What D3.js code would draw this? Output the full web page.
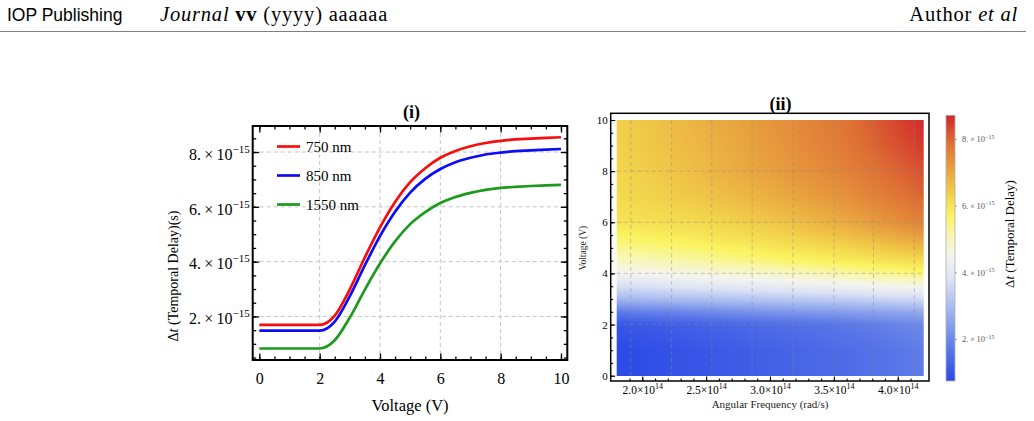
<!DOCTYPE html>
<html>
<head>
<meta charset="utf-8">
<script src="https://cdn.jsdelivr.net/npm/d3@7"></script>
<style>
body{margin:0;background:#fff;}
svg{display:block;}
</style>
</head>
<body>
<svg id="fig" width="1034" height="421"></svg>
<script>
// ---------- data (delays in units of 1e-15 s) ----------
const voltage   = [0,0.5,1,1.5,2,2.5,3,3.5,4,4.5,5,5.5,6,6.5,7,7.5,8,8.5,9,9.5,10];
const delay750  = [1.69,1.69,1.69,1.69,1.69,2.03,2.99,4.16,5.25,6.18,6.90,7.41,7.79,8.04,8.21,8.33,8.41,8.46,8.49,8.52,8.54];
const delay850  = [1.48,1.48,1.48,1.48,1.48,1.81,2.74,3.87,4.93,5.82,6.52,7.02,7.38,7.63,7.79,7.91,7.98,8.03,8.06,8.09,8.11];
const delay1550 = [0.83,0.83,0.83,0.83,0.83,1.13,1.96,2.98,3.93,4.74,5.37,5.81,6.14,6.36,6.51,6.62,6.69,6.73,6.76,6.78,6.80];
const seriesNames = ['750 nm','850 nm','1550 nm'];
const seriesColors = ['#f80d0d','#0d0df5','#1d9a1d'];
const xTicks1 = [0,2,4,6,8,10];
const yTicks1 = [2,4,6,8];

// density map: rows = voltage, columns = angular frequency (1e14 rad/s)
const mapFreq = [1.8,2.4,3.0,3.6,4.2];
const mapVolt = [0,1,2,2.5,3,3.5,4,4.5,5,5.5,6,7,8,9,10];
const mapDelay = [
  [0.74,0.98,1.22,1.46,1.78],
  [0.74,0.98,1.22,1.46,1.78],
  [0.98,1.22,1.46,1.70,2.02],
  [1.78,2.02,2.25,2.41,2.65],
  [2.89,3.05,3.21,3.37,3.61],
  [3.69,3.93,4.09,4.33,4.57],
  [4.41,4.65,4.88,5.20,5.52],
  [4.96,5.20,5.52,5.84,6.16],
  [5.36,5.60,5.92,6.24,6.72],
  [5.68,5.92,6.24,6.64,7.20],
  [6.00,6.16,6.48,6.96,7.59],
  [6.16,6.48,6.88,7.36,7.99],
  [6.24,6.64,7.12,7.59,8.23],
  [6.32,6.72,7.20,7.75,8.47],
  [6.32,6.80,7.28,7.83,8.63]
];
const freqTicks = [2.0,2.5,3.0,3.5,4.0];
const freqGrid = [1.91,2.23,2.545,2.86,3.18,3.5,3.81,4.13];
const voltTicks = [0,2,4,6,8,10];
const barRange = [0.74,8.71];
const barTicks = [2,4,6,8];

// temperature-like colour map
const cmapPos = [0,0.12,0.25,0.38,0.47,0.55,0.62,0.70,0.80,0.90,1];
const cmapCol = ['#2b4ae6','#5a78e8','#9aafef','#dbe2f5','#f4f4ef','#f8f6b0','#faf460','#f2d24a','#e8a03e','#de6e34','#d0242a'];

const serif = '"Liberation Serif","Times New Roman",serif';
const svg = d3.select('#fig');

// ---------- page header ----------
svg.append('text').attr('x',7).attr('y',21)
  .attr('font-family','"Liberation Sans",Arial,sans-serif').attr('font-size',17.5)
  .text('IOP Publishing');
const hdr = svg.append('text').attr('x',160).attr('y',21)
  .attr('font-family',serif).attr('font-size',20.5).attr('letter-spacing',0.8);
hdr.append('tspan').attr('font-style','italic').text('Journal ');
hdr.append('tspan').attr('font-weight','bold').text('vv');
hdr.append('tspan').text(' (yyyy) aaaaaa');
const auth = svg.append('text').attr('x',1018).attr('y',21).attr('text-anchor','end')
  .attr('font-family',serif).attr('font-size',20.5).attr('letter-spacing',0.8);
auth.append('tspan').text('Author ');
auth.append('tspan').attr('font-style','italic').text('et al');
svg.append('line').attr('x1',0).attr('x2',1026).attr('y1',31.5).attr('y2',31.5)
  .attr('stroke','#808080').attr('stroke-width',1);

// ---------- panel (i) ----------
const L = {l:252.7, r:567.3, t:126, b:360};
const x1 = d3.scaleLinear().domain([-0.22,10.21]).range([L.l,L.r]);
const y1 = d3.scaleLinear().domain([0.41,8.95]).range([L.b,L.t]);
const p1 = svg.append('g');

// grid
p1.append('g').selectAll('line').data([2,4,6,8]).join('line')
  .attr('x1',d=>x1(d)).attr('x2',d=>x1(d)).attr('y1',L.t).attr('y2',L.b)
  .attr('stroke','#c4c4c4').attr('stroke-dasharray','4,3').attr('stroke-width',1);
p1.append('g').selectAll('line').data(yTicks1).join('line')
  .attr('y1',d=>y1(d)).attr('y2',d=>y1(d)).attr('x1',L.l).attr('x2',L.r)
  .attr('stroke','#c4c4c4').attr('stroke-dasharray','4,3').attr('stroke-width',1);

// curves
const line1 = d3.line().x((d,i)=>x1(voltage[i])).y(d=>y1(d)).curve(d3.curveMonotoneX);
[delay750,delay850,delay1550].forEach((s,k)=>{
  p1.append('path').datum(s).attr('d',line1).attr('fill','none')
    .attr('stroke',seriesColors[k]).attr('stroke-width',2.7);
});

// legend
seriesNames.forEach((n,k)=>{
  const yy = 146.5 + k*29;
  p1.append('line').attr('x1',277).attr('x2',300).attr('y1',yy).attr('y2',yy)
    .attr('stroke',seriesColors[k]).attr('stroke-width',2.7);
  p1.append('text').attr('x',306).attr('y',yy+5).attr('font-family',serif)
    .attr('font-size',15).text(n);
});

// frame + ticks
function styleAxis(g){ g.select('.domain').remove(); g.attr('font-family',serif); }
const minorX1 = d3.range(0,10.01,0.5), minorY1 = d3.range(0.5,8.9,0.5);
p1.append('g').attr('transform',`translate(0,${L.b})`)
  .call(d3.axisBottom(x1).tickValues(minorX1).tickSize(-3.5).tickFormat('')).call(styleAxis);
p1.append('g').attr('transform',`translate(0,${L.b})`)
  .call(d3.axisBottom(x1).tickValues(xTicks1).tickSize(-6.5).tickPadding(13).tickFormat(d3.format('d')))
  .call(styleAxis).attr('font-size',16);
p1.append('g').attr('transform',`translate(0,${L.t})`)
  .call(d3.axisTop(x1).tickValues(minorX1).tickSize(-3.5).tickFormat('')).call(styleAxis);
p1.append('g').attr('transform',`translate(0,${L.t})`)
  .call(d3.axisTop(x1).tickValues(xTicks1).tickSize(-6.5).tickFormat('')).call(styleAxis);
p1.append('g').attr('transform',`translate(${L.r},0)`)
  .call(d3.axisRight(y1).tickValues(minorY1).tickSize(-3.5).tickFormat('')).call(styleAxis);
p1.append('g').attr('transform',`translate(${L.r},0)`)
  .call(d3.axisRight(y1).tickValues(yTicks1).tickSize(-6.5).tickFormat('')).call(styleAxis);
p1.append('g').attr('transform',`translate(${L.l},0)`)
  .call(d3.axisLeft(y1).tickValues(minorY1).tickSize(-3.5).tickFormat('')).call(styleAxis);
const yAx1 = p1.append('g').attr('transform',`translate(${L.l},0)`)
  .call(d3.axisLeft(y1).tickValues(yTicks1).tickSize(-6.5).tickPadding(3))
  .call(styleAxis).attr('font-size',16);
yAx1.selectAll('.tick text').each(function(d){
  const t = d3.select(this).text(null).attr('dy','0.45em');
  t.append('tspan').text(d + '.\u2009×\u200910');
  t.append('tspan').attr('dy',-7).attr('font-size',11).text('\u221215');
});
p1.selectAll('.tick line').attr('stroke','#000').attr('stroke-width',1.3);
p1.append('rect').attr('x',L.l).attr('y',L.t).attr('width',L.r-L.l).attr('height',L.b-L.t)
  .attr('fill','none').attr('stroke','#000').attr('stroke-width',2);

// labels
p1.append('text').attr('x',411.5).attr('y',118).attr('text-anchor','middle')
  .attr('font-family',serif).attr('font-weight','bold').attr('font-size',18).text('(i)');
p1.append('text').attr('x',410).attr('y',411).attr('text-anchor','middle')
  .attr('font-family',serif).attr('font-size',16.5).text('Voltage (V)');
const yl1 = p1.append('text').attr('transform','translate(178,276) rotate(-90)')
  .attr('text-anchor','middle').attr('font-family',serif).attr('font-size',14);
yl1.append('tspan').text('Δ');
yl1.append('tspan').attr('font-style','italic').text('t');
yl1.append('tspan').text(' (Temporal Delay)(s)');

// ---------- panel (ii) ----------
const R = {l:610.7, r:929, t:113.3, b:381};
const H = {l:616.7, r:923.3, t:120, b:375.7};
const x2 = d3.scaleLinear().domain([1.8,4.2]).range([H.l,H.r]);
const y2 = d3.scaleLinear().domain([0,10]).range([H.b,H.t]);
const cScale = d3.scaleLinear()
  .domain(cmapPos.map(p=>barRange[0]+p*(barRange[1]-barRange[0])))
  .range(cmapCol).interpolate(d3.interpolateRgb).clamp(true);
const p2 = svg.append('g');

// density image, bilinear between read grid values
function bracket(arr,v){
  let i = d3.bisectRight(arr,v)-1;
  i = Math.max(0,Math.min(arr.length-2,i));
  const t = Math.max(0,Math.min(1,(v-arr[i])/(arr[i+1]-arr[i])));
  return [i,t];
}
const cw = Math.round(H.r-H.l), ch = Math.round(H.b-H.t);
const cv = document.createElement('canvas'); cv.width = cw; cv.height = ch;
const ctx = cv.getContext('2d');
const img = ctx.createImageData(cw,ch);
for(let j=0;j<ch;j++){
  const [vi,vt] = bracket(mapVolt, y2.invert(H.t+j+0.5));
  for(let i=0;i<cw;i++){
    const [fi,ft] = bracket(mapFreq, x2.invert(H.l+i+0.5));
    const a = mapDelay[vi][fi]*(1-ft)+mapDelay[vi][fi+1]*ft;
    const b = mapDelay[vi+1][fi]*(1-ft)+mapDelay[vi+1][fi+1]*ft;
    const c = d3.rgb(cScale(a*(1-vt)+b*vt));
    const o = (j*cw+i)*4;
    img.data[o]=c.r; img.data[o+1]=c.g; img.data[o+2]=c.b; img.data[o+3]=255;
  }
}
ctx.putImageData(img,0,0);
p2.append('image').attr('x',H.l).attr('y',H.t).attr('width',cw).attr('height',ch)
  .attr('preserveAspectRatio','none').attr('href',cv.toDataURL());

// grid
p2.append('g').selectAll('line').data(freqGrid).join('line')
  .attr('x1',d=>x2(d)).attr('x2',d=>x2(d)).attr('y1',H.t).attr('y2',H.b)
  .attr('stroke','#8a8a8a').attr('stroke-opacity',0.45).attr('stroke-dasharray','4,3');
p2.append('g').selectAll('line').data([2,4,6,8]).join('line')
  .attr('y1',d=>y2(d)).attr('y2',d=>y2(d)).attr('x1',H.l).attr('x2',H.r)
  .attr('stroke','#8a8a8a').attr('stroke-opacity',0.45).attr('stroke-dasharray','4,3');

// axes
p2.append('g').attr('transform',`translate(${R.l},0)`)
  .call(d3.axisLeft(y2).tickValues(d3.range(0,10.01,0.5)).tickSize(-2.5).tickFormat('')).call(styleAxis);
p2.append('g').attr('transform',`translate(${R.l},0)`)
  .call(d3.axisLeft(y2).tickValues(voltTicks).tickSize(-4.5).tickPadding(3).tickFormat(d3.format('d')))
  .call(styleAxis).attr('font-size',11);
p2.append('g').attr('transform',`translate(0,${R.b})`)
  .call(d3.axisBottom(x2).tickValues(d3.range(1.9,4.15,0.1)).tickSize(-2.5).tickFormat('')).call(styleAxis);
const xAx2 = p2.append('g').attr('transform',`translate(0,${R.b})`)
  .call(d3.axisBottom(x2).tickValues(freqTicks).tickSize(-4.5).tickPadding(4.5))
  .call(styleAxis).attr('font-size',11.5);
xAx2.selectAll('.tick text').each(function(d){
  const t = d3.select(this).text(null);
  t.append('tspan').text(d3.format('.1f')(d) + '×10');
  t.append('tspan').attr('dy',-4.5).attr('font-size',8).text('14');
});
p2.selectAll('.tick line').attr('stroke','#000').attr('stroke-width',1.1);
p2.append('rect').attr('x',R.l).attr('y',R.t).attr('width',R.r-R.l).attr('height',R.b-R.t)
  .attr('fill','none').attr('stroke','#000').attr('stroke-width',1.5);

p2.append('text').attr('x',780.5).attr('y',110).attr('text-anchor','middle')
  .attr('font-family',serif).attr('font-weight','bold').attr('font-size',18).text('(ii)');
p2.append('text').attr('x',770).attr('y',408).attr('text-anchor','middle')
  .attr('font-family',serif).attr('font-size',11).attr('fill','#222').text('Angular Frequency (rad/s)');
p2.append('text').attr('transform','translate(586,248) rotate(-90)').attr('text-anchor','middle')
  .attr('font-family',serif).attr('font-size',9.5).attr('fill','#222').text('Voltage (V)');

// colour bar
const yb = d3.scaleLinear().domain(barRange).range([381,115.3]);
const grad = svg.append('defs').append('linearGradient').attr('id','cbar')
  .attr('x1',0).attr('x2',0).attr('y1',1).attr('y2',0);
grad.selectAll('stop').data(cmapPos).join('stop')
  .attr('offset',d=>d).attr('stop-color',(d,i)=>cmapCol[i]);
const bar = svg.append('g');
bar.append('rect').attr('x',946).attr('y',yb(barRange[1])).attr('width',9)
  .attr('height',yb(barRange[0])-yb(barRange[1])).attr('fill','url(#cbar)')
  .attr('stroke','#b0b0b0').attr('stroke-width',0.8);
const barAx = bar.append('g').attr('transform','translate(955,0)')
  .call(d3.axisRight(yb).tickValues(barTicks).tickSize(2).tickPadding(5))
  .call(styleAxis).attr('font-size',8.5);
barAx.selectAll('.tick line').attr('stroke','#999');
barAx.selectAll('.tick text').attr('fill','#555').each(function(d){
  const t = d3.select(this).text(null);
  t.append('tspan').text(d + '.\u2009×\u200910');
  t.append('tspan').attr('dy',-3.5).attr('font-size',6).text('\u221215');
});
const bl = bar.append('text').attr('transform','translate(1014,234) rotate(-90)')
  .attr('text-anchor','middle').attr('font-family',serif).attr('font-size',13);
bl.append('tspan').text('Δ');
bl.append('tspan').attr('font-style','italic').text('t');
bl.append('tspan').text(' (Temporal Delay)');
</script>
</body>
</html>
